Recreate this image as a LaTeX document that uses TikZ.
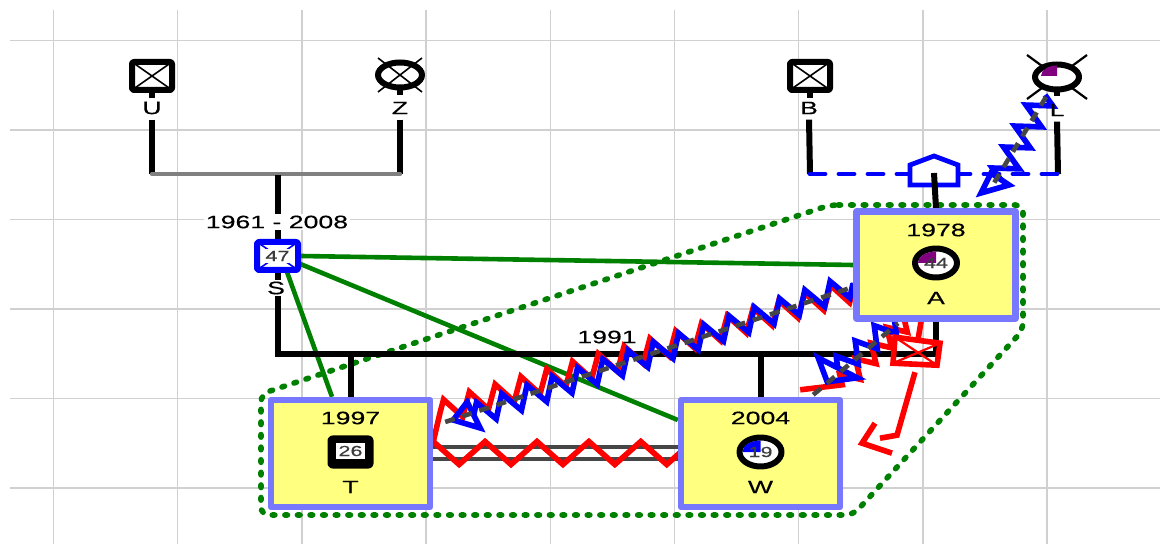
\documentclass[tikz,border=0pt]{standalone}
\usepackage{fontspec}
\setmainfont{Liberation Sans}[FakeStretch=1.48,FakeBold=0.4]
\usetikzlibrary{shapes.geometric,decorations.pathmorphing,calc}
\definecolor{boxborder}{RGB}{120,120,255}
\definecolor{boxfill}{RGB}{255,255,128}
\definecolor{gridgray}{RGB}{208,208,208}
\definecolor{dgray}{RGB}{70,70,70}
\definecolor{numgray}{RGB}{60,60,60}
\definecolor{bargray}{RGB}{128,128,128}
\definecolor{ggreen}{RGB}{0,128,0}
\definecolor{purp}{RGB}{128,0,128}
\pgfdeclarelayer{gridlayer}
\pgfdeclarelayer{connlayer}
\pgfsetlayers{gridlayer,connlayer,main}
\begin{document}
\begin{tikzpicture}[x=0.5pt,y=-0.5pt, line join=round,
  gridline/.style={draw=gridgray, line width=0.75pt},
  lbl/.style={font=\fontsize{9}{10}\selectfont, text=black, inner sep=1pt},
  lblw/.style={lbl, fill=white},
  num/.style={font=\fontsize{7.3}{8}\selectfont, text=numgray, inner sep=0.6pt},
  ybox/.style={rectangle, draw=boxborder, fill=boxfill, line width=3.2pt, minimum width=79.5pt, minimum height=53.5pt, inner sep=0pt},
  xcross/.style={path picture={\draw[#1, line width=0.8pt] (path picture bounding box.south west) -- (path picture bounding box.north east) (path picture bounding box.north west) -- (path picture bounding box.south east);}},
  xcross/.default=black,
  msym/.style={rectangle, draw=black, fill=white, line width=3pt, minimum width=20pt, minimum height=14pt, inner sep=0pt, rounded corners=1pt},
  ssym/.style={rectangle, draw=blue, fill=white, line width=3pt, minimum width=20.5pt, minimum height=14pt, inner sep=0pt, rounded corners=1pt, xcross=blue},
  fsym/.style={ellipse, draw=black, fill=white, line width=3pt, minimum width=22pt, minimum height=12.5pt, inner sep=0pt},
  life/.style={draw=black, line width=3pt, line join=miter},
  graybar/.style={draw=bargray, line width=2.2pt, line cap=round},
  bluedash/.style={draw=blue, line width=2.4pt, line cap=round, dash pattern=on 7.5pt off 7pt},
  greenrel/.style={draw=ggreen, line width=2.3pt},
  greendot/.style={draw=ggreen, line width=2.8pt, line cap=round, dash pattern=on 1.3pt off 5pt, rounded corners=4pt},
  relline/.style={line width=2.8pt},
  reldash/.style={draw=dgray, line width=2.3pt, dash pattern=on 5pt off 4pt},
  twline/.style={draw=dgray, line width=2.3pt}
]
\useasboundingbox (0,0) rectangle (1160,544);
\begin{pgfonlayer}{gridlayer}
  \fill[white] (0,0) rectangle (1160,544);
  \foreach \i in {0,...,8} \draw[gridline] ({53.5+124.2*\i},10) -- ({53.5+124.2*\i},544);
  \foreach \j in {0,...,5} \draw[gridline] (10,{40.5+89.5*\j}) -- (1160,{40.5+89.5*\j});
\end{pgfonlayer}

% ---------- people ----------
\node[msym, xcross] (U) at (152,76) {};
\node[lbl] (Ul) at (152,108) {U};
\node[fsym] (Z) at (400,75) {};
\draw[line width=0.8pt] ($(Z)+(-22,-17)$) -- ($(Z)+(22,17)$) ($(Z)+(22,-17)$) -- ($(Z)+(-22,17)$);
\node[lbl] (Zl) at (400,108) {Z};
\node[msym, xcross] (B) at (810,76) {};
\node[lbl] (Bl) at (809,108) {B};
\coordinate (Lc) at (1057,77);
\draw[line width=1.1pt] ($(Lc)+(-30,-22)$) -- ($(Lc)+(30,22)$) ($(Lc)+(30,-22)$) -- ($(Lc)+(-30,22)$);
\node[fsym] (L) at (Lc) {};
\fill[purp] ($(L.center)+(0,-1)$) -- ++(-16,0) arc[start angle=180, end angle=270, x radius=16, y radius=10.5] -- cycle;
\node[lbl] (Ll) at (1057,110) {L};

\node[lblw] (Sd) at (277,222) {1961 - 2008};
\node[ssym] (S) at (277.5,256) {};
\node[num, fill=white, inner sep=1pt] at (S) {47};
\node[lblw] (Sl) at (276,288) {S};

\node[ybox] (A) at (936,265) {};
\node[lbl] at ($(A)+(0,-35)$) {1978};
\node[fsym, minimum width=21pt, minimum height=14.5pt] (Ac) at ($(A)+(0,-2)$) {};
\fill[purp] (Ac.center) -- ++(-18,0) arc[start angle=180, end angle=270, x radius=18, y radius=11.5] -- cycle;
\node[num] at (Ac) {44};
\node[lbl] at ($(A)+(0,33)$) {A};

\node[ybox] (T) at (350.5,453.5) {};
\node[lbl] at ($(T)+(0,-35.5)$) {1997};
\node[msym, fill=black, minimum width=20pt, minimum height=13.5pt] (Ts) at ($(T)+(0,-1.5)$) {};
\node[num, fill=white, inner sep=1.2pt] at ($(Ts)+(0,-1)$) {26};
\node[lbl] at ($(T)+(0,33.5)$) {T};

\node[ybox] (W) at (760.5,453.5) {};
\node[lbl] at ($(W)+(0,-35.5)$) {2004};
\node[fsym, minimum width=21pt, minimum height=14.5pt] (Wc) at ($(W)+(0,-1.5)$) {};
\fill[blue] (Wc.center) -- ++(-18,0) arc[start angle=180, end angle=270, x radius=18, y radius=11.5] -- cycle;
\node[num] at (Wc) {19};
\node[lbl] at ($(W)+(0,33.5)$) {W};

\node[lbl] (yr) at (607,337) {1991};

\coordinate (M) at (A.south |- 0,354);
\coordinate (house) at (935,185);

% ---------- connectors ----------
\begin{pgfonlayer}{connlayer}
  % emotional group boundary
  \draw[greendot] (830,205) -- (1023,205) -- (1023,330) -- (853,515) -- (261,515) -- (261,394) -- cycle;
  % green relationships
  \draw[greenrel] (S.east) -- (A.west);
  \draw[greenrel] ($(S.east)+(-3,7)$) -- ($(W.west)+(0,-33.5)$);
  \draw[greenrel] ($(S.south)+(9.5,-1)$) -- ($(T.north)+(-18.5,0)$);
  % family lines
  \draw[life] (U.south) -- ++(0,5);
  \draw[life] ($(Ul.south)+(0,3)$) -- (U |- 0,174);
  \draw[life] (Z.south) -- ++(0,5);
  \draw[life] ($(Zl.south)+(0,3)$) -- (Z |- 0,174);
  \draw[graybar] (U |- 0,174) -- (Z |- 0,174);
  \draw[life] (S |- 0,175) -- (S.north);
  \draw[life] (S.south) |- (M);
  \draw[life] (A.south) -- (M);
  \draw[life] (T.north |- M) -- (T.north);
  \draw[life] (W.north |- M) -- (W.north);
  \draw[life] (B.south) -- ++(0,5);
  \draw[life] ($(Bl.south)+(0,3)$) -- (B |- 0,174);
  \draw[life] (L.south) -- ++(0,4);
  \draw[life] ($(Ll.south)+(0,3)$) -- ($(Ll |- 0,174)+(1,0)$);
  \draw[bluedash] (B |- 0,174) -- ($(Ll |- 0,174)+(3,0)$);
  \draw[blue, line width=2.4pt, fill=white] ($(house)+(-25,0)$) -- ($(house)+(23,0)$) -- ($(house)+(23,-20)$) -- ($(house)+(-1,-29)$) -- ($(house)+(-25,-20)$) -- cycle;
  \draw[life] ($(house)+(-1,-12)$) -- (A.north);
  % T -- W
  \draw[twline] ($(T.east)+(0,-6.5)$) -- ($(W.west)+(0,-6.5)$);
  \draw[twline] ($(T.east)+(0,5.5)$) -- ($(W.west)+(0,5.5)$);
  \draw[red, relline, decorate, decoration={zigzag, segment length=25.95pt, amplitude=5.75pt}] ($(T.east)+(-13,-0.5)$) -- ($(W.west)+(2,-0.5)$);
  % A -- T
  \draw[red, relline] ($(T.east)+(0,-11.5)$) -- ($(T.east)+(7,-41.5)$) decorate[decoration={zigzag, segment length=13.45pt, amplitude=5.5pt}] { -- ($(A.west)+(0,25)$) };
  \draw[blue, relline] ($(T.east)+(20,-33.5)$) -- ($(T.east)+(34,-51.5)$) -- ($(T.east)+(47,-25.5)$) -- cycle;
  \draw[blue, relline, decorate, decoration={zigzag, segment length=13.35pt, amplitude=5.5pt}] ($(T.east)+(40.5,-38.5)$) -- ($(A.west)+(0,20)$);
  \draw[reldash] ($(T.east)+(12,-31.5)$) -- ($(A.west)+(0,22)$);
  % A -- W
  \draw[red, relline] ($(W.north east)+(-43,-7)$) -- ($(W.north east)+(-1,-12)$) decorate[decoration={zigzag, segment length=11.1pt, amplitude=4.5pt}] { -- ($(A.south)+(-31,0)$) };
  \draw[blue, relline] ($(W.north east)+(-25,-39)$) -- ($(W.north east)+(14,-19)$) -- ($(W.north east)+(-16,-15)$) -- cycle;
  \draw[blue, relline, decorate, decoration={zigzag, segment length=12.2pt, amplitude=5pt}] ($(W.north east)+(-5.5,-29)$) -- ($(A.south)+(-41,0)$);
  \draw[reldash] ($(W.north east)+(-30,-2)$) -- ($(A.south)+(-38,1.5)$);
  % A -> W focused arrow with marker
  \draw[red, relline] ($(A.south)+(-15,0)$) -- ($(A.south)+(-18,18)$);
  \draw[red, relline] ($(A.south)+(-41,15.5)$) -- ($(A.south)+(4,21.5)$) -- ($(A.south)+(1,43.5)$) -- ($(A.south)+(-43,41.5)$) -- cycle;
  \draw[red, line width=1.1pt] ($(A.south)+(-41,15.5)$) -- ($(A.south)+(1,43.5)$) ($(A.south)+(4,21.5)$) -- ($(A.south)+(-43,41.5)$);
  \draw[red, relline] ($(A.south)+(-21,50.5)$) -- ($(A.south)+(-39,113.5)$) -- ($(A.south)+(-56,116.5)$);
  \draw[red, relline] ($(A.south)+(-61,101.5)$) -- ($(A.south)+(-74,121.5)$) -- ($(A.south)+(-44,131.5)$);
  % L -- house (A)
  \draw[blue, relline] ($(house)+(46,8)$) -- ($(house)+(74,0)$) -- ($(house)+(56,-12)$) -- cycle;
  \draw[blue, relline, decorate, decoration={zigzag, segment length=11.9pt, amplitude=6pt}] ($(L.center)+(-12,18)$) -- ($(house)+(65,-6)$);
  \draw[reldash] ($(L.center)+(-11,20)$) -- ($(house)+(59,-2)$);
\end{pgfonlayer}
\end{tikzpicture}
\end{document}
